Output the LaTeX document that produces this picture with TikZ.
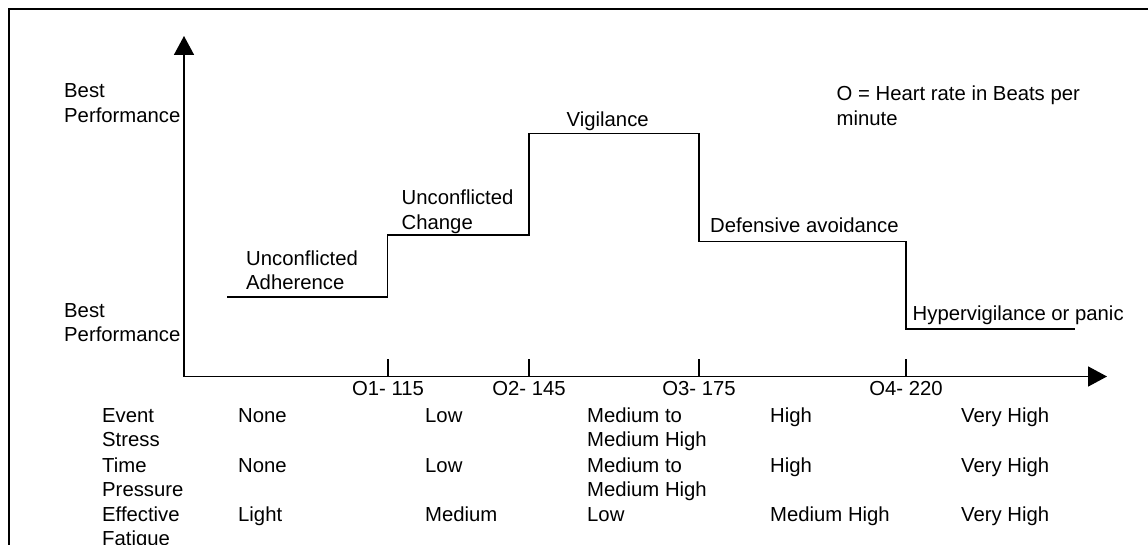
\documentclass[tikz,border=0pt]{standalone}
\usepackage{fontspec}
\setmainfont{Liberation Sans}
\usetikzlibrary{arrows.meta}
\begin{document}
\begin{tikzpicture}[x=1pt,y=-1pt,
  txt/.style={font=\fontsize{20.3}{24.8}\selectfont, inner sep=0pt, anchor=base west, align=left},
  % two-line labels: the base anchor sits on the last line, so drop by one line
  txttwo/.style={txt, yshift=-24.8pt},
  ticklbl/.style={font=\fontsize{20.3}{24.8}\selectfont, inner sep=0pt, anchor=base},
  axis/.style={line width=1.6pt, -{Triangle[length=19pt,width=20pt]}},
  curve/.style={line width=1.6pt, line join=miter},
  tickmark/.style={line width=1.6pt}]
  \useasboundingbox (0,0) rectangle (1148,545);
  \fill[white] (0,0) rectangle (1148,545);
  % outer frame, running past the right and bottom edges
  \begin{scope}
    \clip (0,0) rectangle (1148,545);
    \draw[line width=1.6pt] (9,9) rectangle (1200,600);
  \end{scope}

  % axes
  \coordinate (O) at (184,376.5);
  \coordinate (ytip) at (184,36);
  \coordinate (xtip) at (1107,376.5);
  \draw[axis] (O) -- (ytip);
  \draw[axis] (O) -- (xtip);

  % heart-rate ticks
  \foreach \n/\x/\t in {1/388/{O1- 115}, 2/529/{O2- 145}, 3/699/{O3- 175}, 4/906/{O4- 220}} {
    \coordinate (t\n) at (\x,376.5);
    \coordinate (t\n top) at (\x,359);
    \draw[tickmark] (t\n) -- (t\n top);
    \node[ticklbl] (tl\n) at (\x,395) {\t};
  }

  % performance steps
  \coordinate (s0) at (227,297);
  \coordinate (s1) at (387.5,297);
  \coordinate (s2) at (387.5,235);
  \coordinate (s3) at (529,235);
  \coordinate (s4) at (529,133.7);
  \coordinate (s5) at (699,133.7);
  \coordinate (s6) at (699,241.5);
  \coordinate (s7) at (906,241.5);
  \coordinate (s8) at (906,329);
  \coordinate (s9) at (1075,329);
  \draw[curve] (s0) -- (s1) -- (s2) -- (s3) -- (s4) -- (s5) -- (s6) -- (s7) -- (s8) -- (s9);

  % y-axis labels
  \node[txttwo] (besthi) at (64,98) {Best\\Performance};
  \node[txttwo] (bestlo) at (64,317) {Best\\Performance};

  % legend
  \node[txttwo] (legend) at (836.5,100.5) {O = Heart rate in Beats per\\minute};

  % step labels
  \node[txttwo] (adh) at (246,265) {Unconflicted\\Adherence};
  \node[txttwo] (chg) at (401.5,204.3) {Unconflicted\\Change};
  \node[txt] (vig) at (566.5,126.7) {Vigilance};
  \node[txt] (def) at (710,233) {Defensive avoidance};
  \node[txt] (hyp) at (912.5,320) {Hypervigilance or panic};

  % table below the axis
  \node[txttwo] (r1) at (102,422) {Event\\Stress};
  \node[txttwo] (r2) at (102,472) {Time\\Pressure};
  \node[txttwo] (r3) at (102,521) {Effective\\Fatigue};

  \node[txt] (r1c1) at (238,422) {None};
  \node[txt] (r1c2) at (425,422) {Low};
  \node[txttwo] (r1c3) at (587,422) {Medium to\\Medium High};
  \node[txt] (r1c4) at (770,422) {High};
  \node[txt] (r1c5) at (961,422) {Very High};

  \node[txt] (r2c1) at (238,472) {None};
  \node[txt] (r2c2) at (425,472) {Low};
  \node[txttwo] (r2c3) at (587,472) {Medium to\\Medium High};
  \node[txt] (r2c4) at (770,472) {High};
  \node[txt] (r2c5) at (961,472) {Very High};

  \node[txt] (r3c1) at (238,521) {Light};
  \node[txt] (r3c2) at (425,521) {Medium};
  \node[txt] (r3c3) at (587,521) {Low};
  \node[txt] (r3c4) at (770,521) {Medium High};
  \node[txt] (r3c5) at (961,521) {Very High};
\end{tikzpicture}
\end{document}
